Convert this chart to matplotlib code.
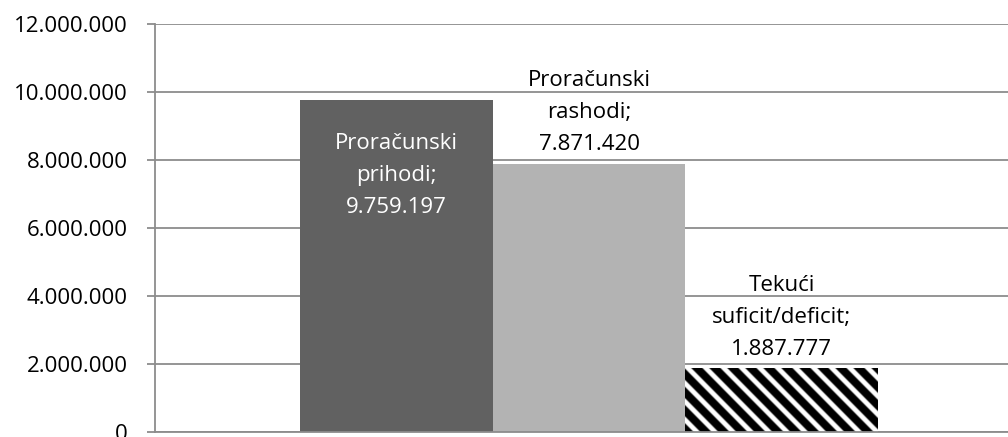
import matplotlib
matplotlib.use("Agg")
import numpy as np
import matplotlib.pyplot as plt
from matplotlib.ticker import FuncFormatter, MultipleLocator

plt.rcParams['font.family'] = ['Open Sans', 'DejaVu Sans']

series = ["Proračunski prihodi", "Proračunski rashodi", "Tekući suficit/deficit"]
label_lines = [["Proračunski", "prihodi;"], ["Proračunski", "rashodi;"], ["Tekući", "suficit/deficit;"]]
values = [9759197, 7871420, 1887777]
colors = ["#616161", "#b3b3b3", "white"]
striped = [False, False, True]
y_max = 12000000
y_step = 2000000


def fmt(v):
    return f"{int(round(v)):,}".replace(",", ".")


W, H = 1008, 437
fig = plt.figure(figsize=(W / 100, H / 100), dpi=100)
ax = fig.add_axes([155 / W, 1 - 432 / H, 868 / W, (432 - 24) / H])

n = len(values)
width = 1 / 4.5
grid_c = "#8c8c8c"

patches = []
for i, (v, c) in enumerate(zip(values, colors)):
    x = (i - (n - 1) / 2) * width
    b = ax.bar(x, v, width=width, color=c, linewidth=0, zorder=3)
    patches.append((x, v, b[0]))
    text = "\n".join(label_lines[i] + [fmt(v)])
    if i == 0:
        ax.annotate(text, (x, v), xytext=(0, -23.5), textcoords="offset points",
                    ha="center", va="top", color="white", fontsize=16,
                    linespacing=1.7, zorder=6)
    else:
        ax.annotate(text, (x, v), xytext=(0, 6.5 if i == 1 else 5.5), textcoords="offset points",
                    ha="center", va="bottom", color="black", fontsize=16,
                    linespacing=1.7, zorder=6)

ax.set_xlim(-0.5, 0.5)
ax.set_ylim(0, y_max)
ax.yaxis.set_major_locator(MultipleLocator(y_step))
ax.yaxis.set_major_formatter(FuncFormatter(lambda v, p: fmt(v)))
ax.set_xticks([])
ax.grid(axis="y", color=grid_c, linewidth=1.3, zorder=0)
ax.tick_params(axis="y", length=6, width=1.3, color=grid_c, pad=13.5, labelsize=16, labelcolor="black")
for s in ["top", "right"]:
    ax.spines[s].set_visible(False)
for s in ["left", "bottom"]:
    ax.spines[s].set_color(grid_c)
    ax.spines[s].set_linewidth(1.3)
    ax.spines[s].set_zorder(5)

# diagonal stripe fill (black/white, "\" direction) for the striped bar
fig.canvas.draw()
period = 18.0
ss = 4
for (x, v, p), st in zip(patches, striped):
    if not st:
        continue
    bb = p.get_window_extent()
    nw = max(int(round(bb.width * ss)), 1)
    nh = max(int(round(bb.height * ss)), 1)
    cols = bb.x0 + (np.arange(nw) + 0.5) * bb.width / nw
    rows = (H - bb.y1) + (np.arange(nh) + 0.5) * bb.height / nh
    val = (cols[None, :] - rows[:, None]) % period
    img = np.clip((4.3 - np.abs(val - 13.5)) / 1.8, 0, 1)
    im = ax.imshow(img, cmap="gray", vmin=0, vmax=1, origin="upper",
                   extent=(x - width / 2, x + width / 2, 0, v), aspect="auto",
                   interpolation="antialiased", zorder=3.5)
    im.set_clip_path(p)

ax.set_xlim(-0.5, 0.5)
ax.set_ylim(0, y_max)
ax.set_aspect("auto")

fig.savefig("out.png", dpi=100)
